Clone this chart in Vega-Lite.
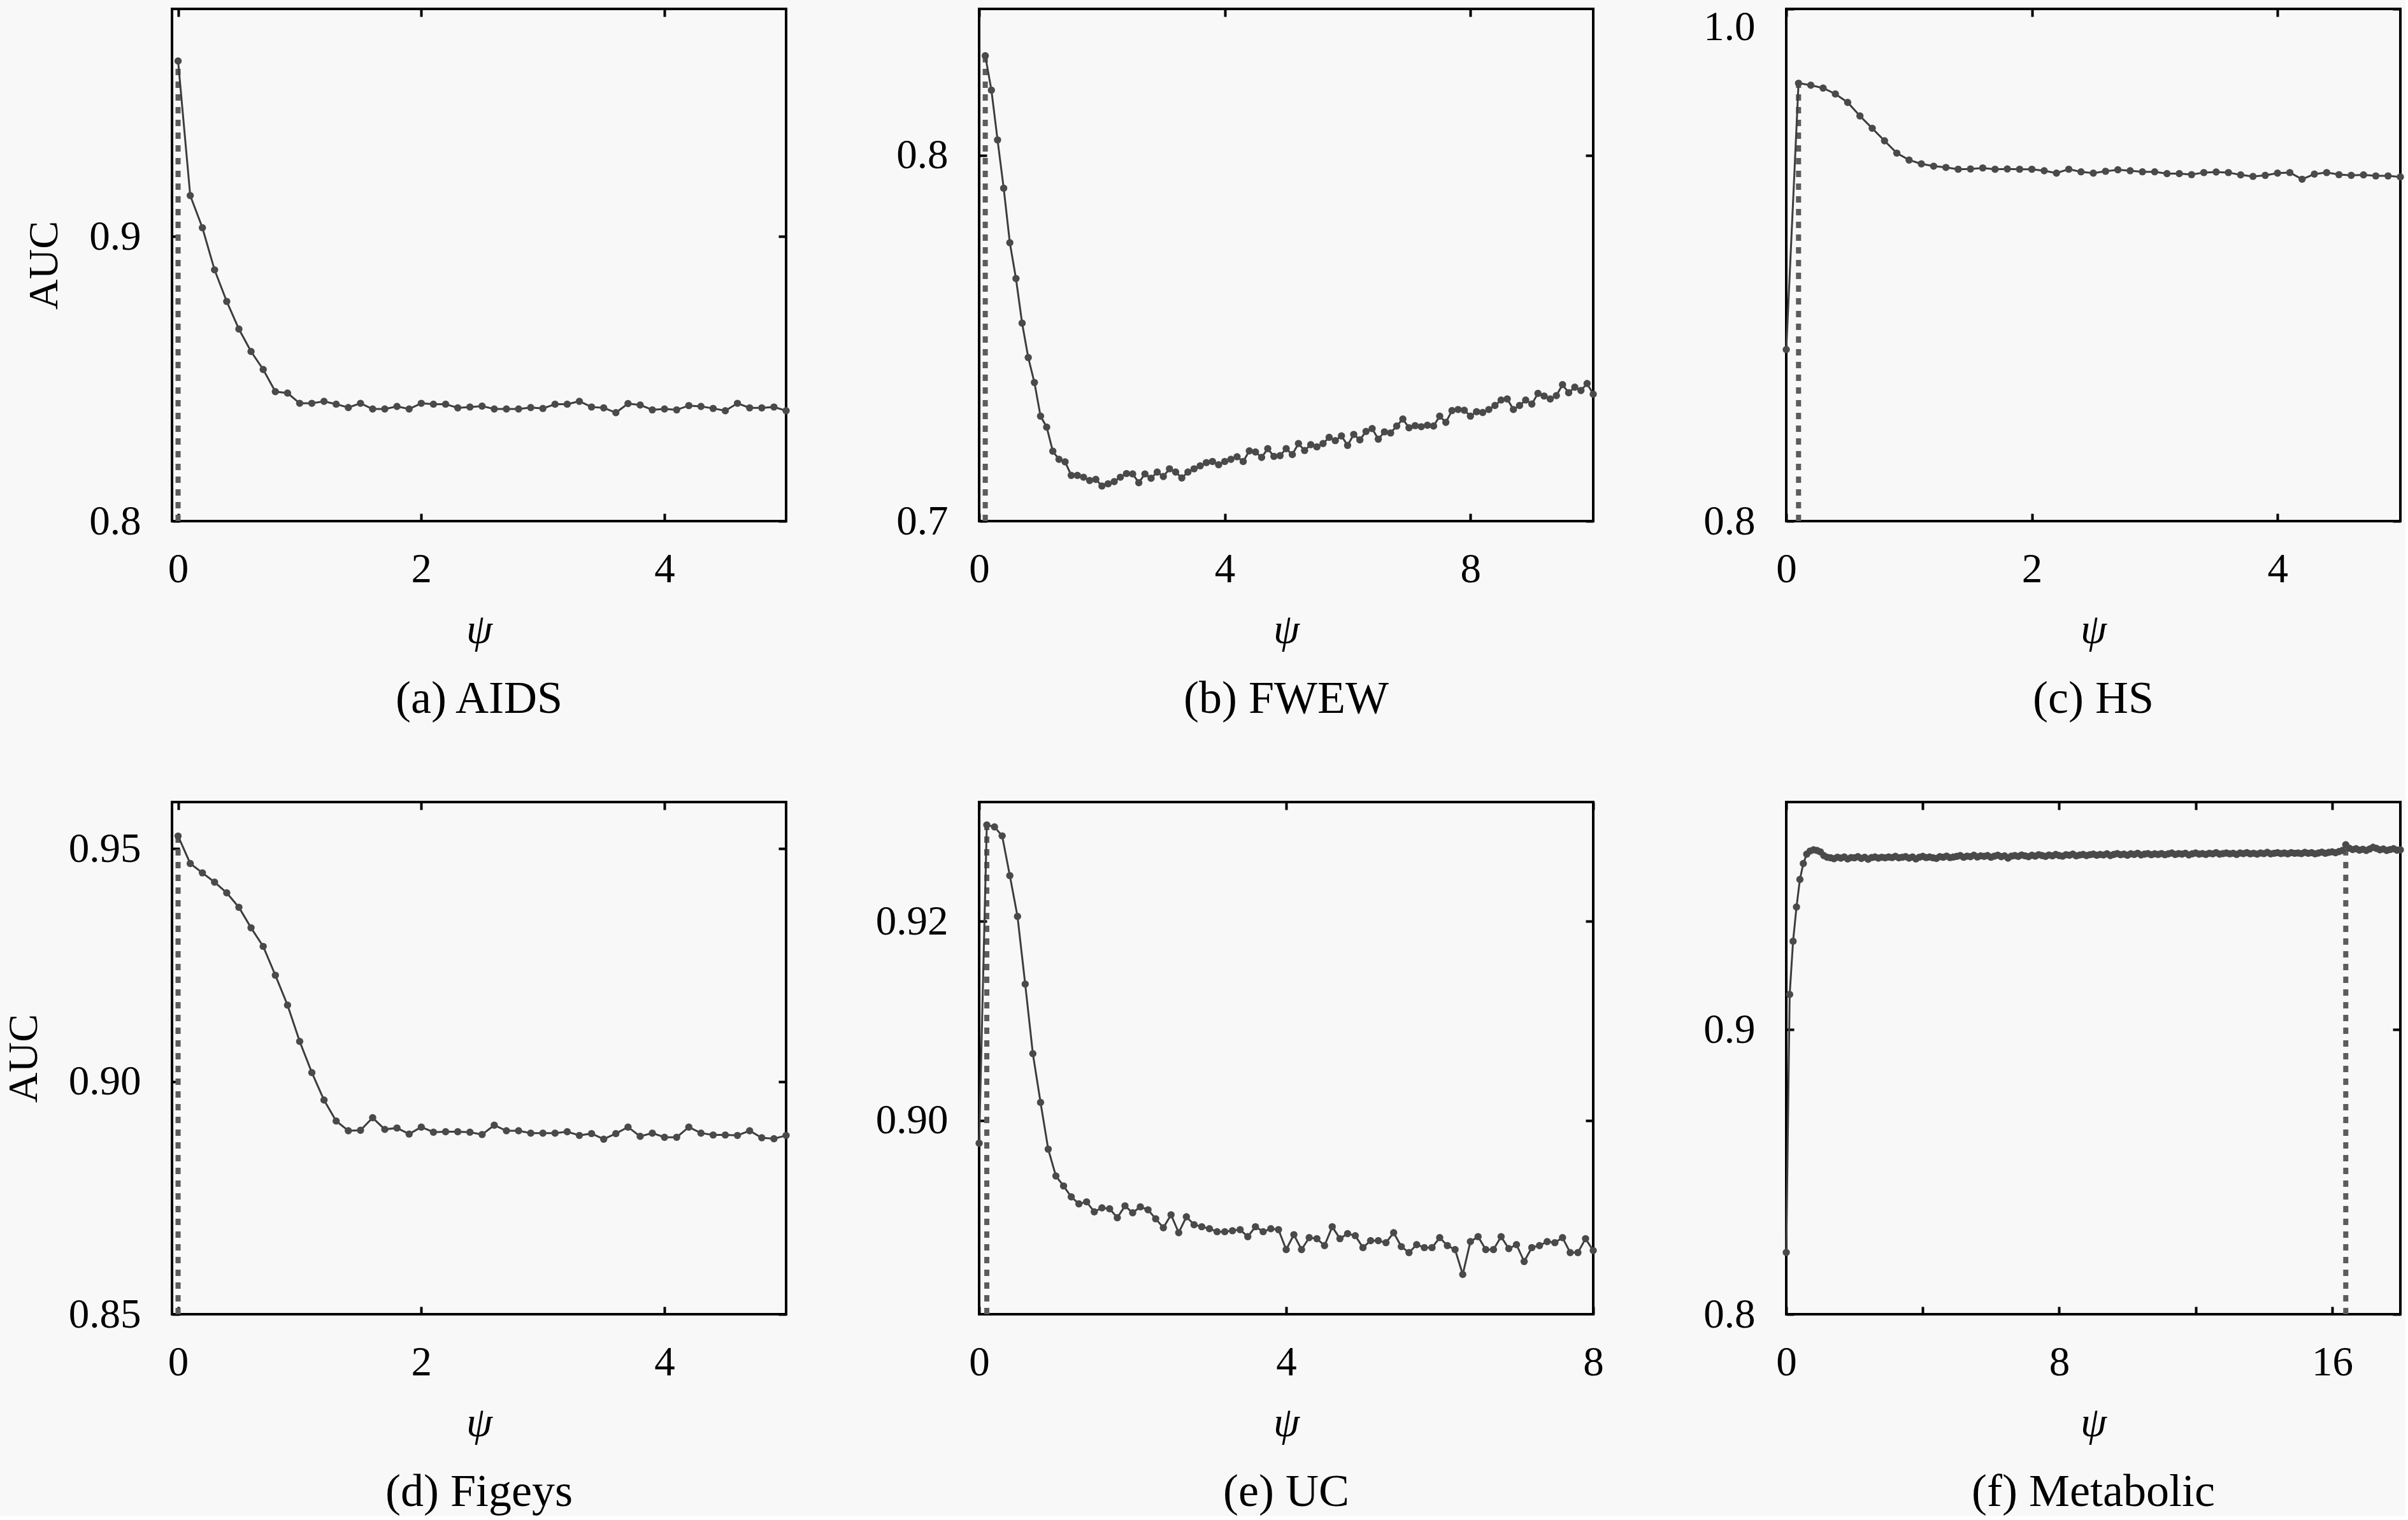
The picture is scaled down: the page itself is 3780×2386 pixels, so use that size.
{
"$schema": "https://vega.github.io/schema/vega-lite/v6.json",
"background": "#f8f8f8",
"padding": {"left": 2, "top": 8, "right": 0, "bottom": 0},
"config": {
  "font": "'Liberation Serif', serif",
  "view": {"stroke": "black", "strokeWidth": 4},
  "axis": {"domain": false, "grid": false, "tickSize": -12, "tickWidth": 4, "tickColor": "black", "labelFont": "'Liberation Serif', serif", "labelFontSize": 65, "labelColor": "black", "titleFont": "'Liberation Serif', serif", "titleFontSize": 66, "titleFontWeight": "normal", "titleColor": "black"},
  "axisX": {"labelFlush": false, "labelPadding": 56, "titlePadding": 30, "titleFontStyle": "italic"},
  "axisY": {"labelPadding": 61, "titlePadding": 36},
  "title": {"orient": "bottom", "fontSize": 72, "fontWeight": "normal", "font": "'Liberation Serif', serif", "color": "black", "offset": 41, "anchor": "middle"}
},
"datasets": {
"a": [{"x":0,"y":0.9617},{"x":0.1,"y":0.9144},{"x":0.2,"y":0.9031},{"x":0.3,"y":0.8883},{"x":0.4,"y":0.8772},{"x":0.5,"y":0.8675},{"x":0.6,"y":0.8596},{"x":0.7,"y":0.8533},{"x":0.8,"y":0.8455},{"x":0.9,"y":0.845},{"x":1.0,"y":0.8414},{"x":1.1,"y":0.8414},{"x":1.2,"y":0.8421},{"x":1.3,"y":0.8411},{"x":1.4,"y":0.8399},{"x":1.5,"y":0.8414},{"x":1.6,"y":0.8394},{"x":1.7,"y":0.8394},{"x":1.8,"y":0.8403},{"x":1.9,"y":0.8394},{"x":2.0,"y":0.8414},{"x":2.1,"y":0.8411},{"x":2.2,"y":0.8411},{"x":2.3,"y":0.8398},{"x":2.4,"y":0.8401},{"x":2.5,"y":0.8404},{"x":2.6,"y":0.8394},{"x":2.7,"y":0.8394},{"x":2.8,"y":0.8394},{"x":2.9,"y":0.8399},{"x":3.0,"y":0.8396},{"x":3.1,"y":0.8411},{"x":3.2,"y":0.8411},{"x":3.3,"y":0.8421},{"x":3.4,"y":0.8401},{"x":3.5,"y":0.8398},{"x":3.6,"y":0.8381},{"x":3.7,"y":0.8413},{"x":3.8,"y":0.8408},{"x":3.9,"y":0.8391},{"x":4.0,"y":0.8394},{"x":4.1,"y":0.8391},{"x":4.2,"y":0.8406},{"x":4.3,"y":0.8403},{"x":4.4,"y":0.8396},{"x":4.5,"y":0.8388},{"x":4.6,"y":0.8414},{"x":4.7,"y":0.8398},{"x":4.8,"y":0.8398},{"x":4.9,"y":0.8401},{"x":5.0,"y":0.8388}],
"b": [{"x":0.1,"y":0.8272},{"x":0.2,"y":0.8178},{"x":0.3,"y":0.8042},{"x":0.4,"y":0.791},{"x":0.5,"y":0.7761},{"x":0.6,"y":0.7663},{"x":0.7,"y":0.7541},{"x":0.8,"y":0.7447},{"x":0.9,"y":0.7379},{"x":1.0,"y":0.7287},{"x":1.1,"y":0.7257},{"x":1.2,"y":0.7191},{"x":1.3,"y":0.7169},{"x":1.4,"y":0.7162},{"x":1.5,"y":0.7125},{"x":1.6,"y":0.7125},{"x":1.7,"y":0.712},{"x":1.8,"y":0.7111},{"x":1.9,"y":0.7114},{"x":2.0,"y":0.7096},{"x":2.1,"y":0.7102},{"x":2.2,"y":0.7108},{"x":2.3,"y":0.712},{"x":2.4,"y":0.713},{"x":2.5,"y":0.7129},{"x":2.6,"y":0.7105},{"x":2.7,"y":0.7129},{"x":2.8,"y":0.7117},{"x":2.9,"y":0.7134},{"x":3.0,"y":0.7122},{"x":3.1,"y":0.7143},{"x":3.2,"y":0.7134},{"x":3.3,"y":0.7118},{"x":3.4,"y":0.7134},{"x":3.5,"y":0.7143},{"x":3.6,"y":0.7151},{"x":3.7,"y":0.716},{"x":3.8,"y":0.7163},{"x":3.9,"y":0.7154},{"x":4.0,"y":0.7163},{"x":4.1,"y":0.7169},{"x":4.2,"y":0.7176},{"x":4.3,"y":0.7163},{"x":4.4,"y":0.7192},{"x":4.5,"y":0.7189},{"x":4.6,"y":0.7174},{"x":4.7,"y":0.7198},{"x":4.8,"y":0.7177},{"x":4.9,"y":0.7179},{"x":5.0,"y":0.7198},{"x":5.1,"y":0.7182},{"x":5.2,"y":0.7212},{"x":5.3,"y":0.7193},{"x":5.4,"y":0.7209},{"x":5.5,"y":0.7203},{"x":5.6,"y":0.7212},{"x":5.7,"y":0.7229},{"x":5.8,"y":0.722},{"x":5.9,"y":0.7233},{"x":6.0,"y":0.7207},{"x":6.1,"y":0.7237},{"x":6.2,"y":0.7222},{"x":6.3,"y":0.7245},{"x":6.4,"y":0.7253},{"x":6.5,"y":0.7224},{"x":6.6,"y":0.7244},{"x":6.7,"y":0.7241},{"x":6.8,"y":0.726},{"x":6.9,"y":0.7279},{"x":7.0,"y":0.7255},{"x":7.1,"y":0.7261},{"x":7.2,"y":0.7258},{"x":7.3,"y":0.7262},{"x":7.4,"y":0.726},{"x":7.5,"y":0.7287},{"x":7.6,"y":0.727},{"x":7.7,"y":0.7302},{"x":7.8,"y":0.7305},{"x":7.9,"y":0.7303},{"x":8.0,"y":0.7287},{"x":8.1,"y":0.7299},{"x":8.2,"y":0.7297},{"x":8.3,"y":0.7305},{"x":8.4,"y":0.7316},{"x":8.5,"y":0.7331},{"x":8.6,"y":0.7334},{"x":8.7,"y":0.7305},{"x":8.8,"y":0.7316},{"x":8.9,"y":0.7331},{"x":9.0,"y":0.732},{"x":9.1,"y":0.7349},{"x":9.2,"y":0.7342},{"x":9.3,"y":0.7334},{"x":9.4,"y":0.7343},{"x":9.5,"y":0.7373},{"x":9.6,"y":0.7351},{"x":9.7,"y":0.7366},{"x":9.8,"y":0.7357},{"x":9.9,"y":0.7376},{"x":10.0,"y":0.7347}],
"c": [{"x":0,"y":0.867},{"x":0.1,"y":0.971},{"x":0.2,"y":0.9702},{"x":0.3,"y":0.9691},{"x":0.4,"y":0.9668},{"x":0.5,"y":0.9635},{"x":0.6,"y":0.9582},{"x":0.7,"y":0.9534},{"x":0.8,"y":0.9485},{"x":0.9,"y":0.9437},{"x":1.0,"y":0.941},{"x":1.1,"y":0.9395},{"x":1.2,"y":0.9386},{"x":1.3,"y":0.9381},{"x":1.4,"y":0.9374},{"x":1.5,"y":0.9375},{"x":1.6,"y":0.9379},{"x":1.7,"y":0.9374},{"x":1.8,"y":0.9375},{"x":1.9,"y":0.9374},{"x":2.0,"y":0.9374},{"x":2.1,"y":0.9368},{"x":2.2,"y":0.9359},{"x":2.3,"y":0.9374},{"x":2.4,"y":0.9364},{"x":2.5,"y":0.9359},{"x":2.6,"y":0.9366},{"x":2.7,"y":0.9372},{"x":2.8,"y":0.9368},{"x":2.9,"y":0.9364},{"x":3.0,"y":0.9364},{"x":3.1,"y":0.9357},{"x":3.2,"y":0.9357},{"x":3.3,"y":0.9353},{"x":3.4,"y":0.9361},{"x":3.5,"y":0.9363},{"x":3.6,"y":0.9361},{"x":3.7,"y":0.9352},{"x":3.8,"y":0.9346},{"x":3.9,"y":0.935},{"x":4.0,"y":0.9359},{"x":4.1,"y":0.9361},{"x":4.2,"y":0.9335},{"x":4.3,"y":0.9355},{"x":4.4,"y":0.9361},{"x":4.5,"y":0.9353},{"x":4.6,"y":0.935},{"x":4.7,"y":0.9352},{"x":4.8,"y":0.9348},{"x":4.9,"y":0.9348},{"x":5.0,"y":0.9344}],
"d": [{"x":0,"y":0.9527},{"x":0.1,"y":0.9468},{"x":0.2,"y":0.9448},{"x":0.3,"y":0.9428},{"x":0.4,"y":0.9405},{"x":0.5,"y":0.9374},{"x":0.6,"y":0.933},{"x":0.7,"y":0.929},{"x":0.8,"y":0.9228},{"x":0.9,"y":0.9164},{"x":1.0,"y":0.9086},{"x":1.1,"y":0.9019},{"x":1.2,"y":0.896},{"x":1.3,"y":0.8915},{"x":1.4,"y":0.8894},{"x":1.5,"y":0.8895},{"x":1.6,"y":0.8922},{"x":1.7,"y":0.8897},{"x":1.8,"y":0.89},{"x":1.9,"y":0.8887},{"x":2.0,"y":0.8902},{"x":2.1,"y":0.8891},{"x":2.2,"y":0.8892},{"x":2.3,"y":0.8892},{"x":2.4,"y":0.8891},{"x":2.5,"y":0.8886},{"x":2.6,"y":0.8906},{"x":2.7,"y":0.8894},{"x":2.8,"y":0.8894},{"x":2.9,"y":0.8889},{"x":3.0,"y":0.8889},{"x":3.1,"y":0.8889},{"x":3.2,"y":0.8892},{"x":3.3,"y":0.8884},{"x":3.4,"y":0.8888},{"x":3.5,"y":0.8876},{"x":3.6,"y":0.8888},{"x":3.7,"y":0.8902},{"x":3.8,"y":0.8882},{"x":3.9,"y":0.8889},{"x":4.0,"y":0.888},{"x":4.1,"y":0.888},{"x":4.2,"y":0.8902},{"x":4.3,"y":0.8889},{"x":4.4,"y":0.8885},{"x":4.5,"y":0.8885},{"x":4.6,"y":0.8884},{"x":4.7,"y":0.8894},{"x":4.8,"y":0.8879},{"x":4.9,"y":0.8877},{"x":5.0,"y":0.8884}],
"e": [{"x":0,"y":0.8977},{"x":0.1,"y":0.9297},{"x":0.2,"y":0.9295},{"x":0.3,"y":0.9286},{"x":0.4,"y":0.9246},{"x":0.5,"y":0.9205},{"x":0.6,"y":0.9137},{"x":0.7,"y":0.9067},{"x":0.8,"y":0.9018},{"x":0.9,"y":0.8971},{"x":1.0,"y":0.8944},{"x":1.1,"y":0.8934},{"x":1.2,"y":0.8923},{"x":1.3,"y":0.8916},{"x":1.4,"y":0.8918},{"x":1.5,"y":0.8908},{"x":1.6,"y":0.8912},{"x":1.7,"y":0.8911},{"x":1.8,"y":0.8902},{"x":1.9,"y":0.8914},{"x":2.0,"y":0.8907},{"x":2.1,"y":0.8913},{"x":2.2,"y":0.891},{"x":2.3,"y":0.8901},{"x":2.4,"y":0.8892},{"x":2.5,"y":0.8905},{"x":2.6,"y":0.8887},{"x":2.7,"y":0.8903},{"x":2.8,"y":0.8895},{"x":2.9,"y":0.8893},{"x":3.0,"y":0.8891},{"x":3.1,"y":0.8888},{"x":3.2,"y":0.8888},{"x":3.3,"y":0.8889},{"x":3.4,"y":0.889},{"x":3.5,"y":0.8883},{"x":3.6,"y":0.8893},{"x":3.7,"y":0.8888},{"x":3.8,"y":0.8891},{"x":3.9,"y":0.889},{"x":4.0,"y":0.887},{"x":4.1,"y":0.8885},{"x":4.2,"y":0.887},{"x":4.3,"y":0.8882},{"x":4.4,"y":0.8881},{"x":4.5,"y":0.8874},{"x":4.6,"y":0.8893},{"x":4.7,"y":0.8881},{"x":4.8,"y":0.8886},{"x":4.9,"y":0.8884},{"x":5.0,"y":0.8872},{"x":5.1,"y":0.8879},{"x":5.2,"y":0.8879},{"x":5.3,"y":0.8877},{"x":5.4,"y":0.8887},{"x":5.5,"y":0.8873},{"x":5.6,"y":0.8867},{"x":5.7,"y":0.8875},{"x":5.8,"y":0.8872},{"x":5.9,"y":0.8872},{"x":6.0,"y":0.8882},{"x":6.1,"y":0.8874},{"x":6.2,"y":0.887},{"x":6.3,"y":0.8845},{"x":6.4,"y":0.8878},{"x":6.5,"y":0.8883},{"x":6.6,"y":0.887},{"x":6.7,"y":0.887},{"x":6.8,"y":0.8883},{"x":6.9,"y":0.8871},{"x":7.0,"y":0.8875},{"x":7.1,"y":0.8858},{"x":7.2,"y":0.8872},{"x":7.3,"y":0.8874},{"x":7.4,"y":0.8878},{"x":7.5,"y":0.8877},{"x":7.6,"y":0.8882},{"x":7.7,"y":0.8867},{"x":7.8,"y":0.8867},{"x":7.9,"y":0.8881},{"x":8.0,"y":0.8869}],
"f": [{"x":0,"y":0.8217},{"x":0.1,"y":0.9124},{"x":0.2,"y":0.9311},{"x":0.3,"y":0.9431},{"x":0.4,"y":0.9528},{"x":0.5,"y":0.9584},{"x":0.6,"y":0.9617},{"x":0.7,"y":0.9628},{"x":0.8,"y":0.9632},{"x":0.9,"y":0.963},{"x":1.0,"y":0.9625},{"x":1.1,"y":0.9612},{"x":1.2,"y":0.9606},
{"x":1.3,"y":0.9604},{"x":1.4,"y":0.9601},{"x":1.5,"y":0.9606},{"x":1.6,"y":0.9603},{"x":1.7,"y":0.9607},{"x":1.8,"y":0.96},{"x":1.9,"y":0.9605},{"x":2.0,"y":0.9604},{"x":2.1,"y":0.9608},{"x":2.2,"y":0.9602},{"x":2.3,"y":0.9606},{"x":2.4,"y":0.9599},{"x":2.5,"y":0.9605},{"x":2.6,"y":0.9607},{"x":2.7,"y":0.9603},{"x":2.8,"y":0.9606},{"x":2.9,"y":0.9604},
{"x":3.0,"y":0.9607},{"x":3.1,"y":0.9605},{"x":3.2,"y":0.9609},{"x":3.3,"y":0.9604},{"x":3.4,"y":0.9606},{"x":3.5,"y":0.9608},{"x":3.6,"y":0.9603},{"x":3.7,"y":0.9607},{"x":3.8,"y":0.96},{"x":3.9,"y":0.9606},{"x":4.0,"y":0.9609},{"x":4.1,"y":0.9605},{"x":4.2,"y":0.9607},{"x":4.3,"y":0.9604},{"x":4.4,"y":0.9602},{"x":4.5,"y":0.9608},{"x":4.6,"y":0.9606},{"x":4.7,"y":0.961},{"x":4.8,"y":0.9605},{"x":4.9,"y":0.9607},
{"x":5.0,"y":0.9609},{"x":5.1,"y":0.9612},{"x":5.2,"y":0.9606},{"x":5.3,"y":0.961},{"x":5.4,"y":0.9608},{"x":5.5,"y":0.9613},{"x":5.6,"y":0.9607},{"x":5.7,"y":0.9611},{"x":5.8,"y":0.9609},{"x":5.9,"y":0.9612},{"x":6.0,"y":0.9606},{"x":6.1,"y":0.961},{"x":6.2,"y":0.9613},{"x":6.3,"y":0.9608},{"x":6.4,"y":0.9611},{"x":6.5,"y":0.9603},{"x":6.6,"y":0.961},{"x":6.7,"y":0.9612},{"x":6.8,"y":0.9609},{"x":6.9,"y":0.9614},
{"x":7.0,"y":0.9611},{"x":7.1,"y":0.9608},{"x":7.2,"y":0.9613},{"x":7.3,"y":0.961},{"x":7.4,"y":0.9615},{"x":7.5,"y":0.9612},{"x":7.6,"y":0.9609},{"x":7.7,"y":0.9614},{"x":7.8,"y":0.9611},{"x":7.9,"y":0.9616},{"x":8.0,"y":0.9612},{"x":8.1,"y":0.961},{"x":8.2,"y":0.9615},{"x":8.3,"y":0.9613},{"x":8.4,"y":0.9617},{"x":8.5,"y":0.9611},{"x":8.6,"y":0.9614},{"x":8.7,"y":0.9616},{"x":8.8,"y":0.9612},{"x":8.9,"y":0.9615},
{"x":9.0,"y":0.9617},{"x":9.1,"y":0.9613},{"x":9.2,"y":0.9616},{"x":9.3,"y":0.9614},{"x":9.4,"y":0.9618},{"x":9.5,"y":0.9612},{"x":9.6,"y":0.9616},{"x":9.7,"y":0.9619},{"x":9.8,"y":0.9615},{"x":9.9,"y":0.9617},{"x":10.0,"y":0.9613},{"x":10.1,"y":0.9618},{"x":10.2,"y":0.9616},{"x":10.3,"y":0.962},{"x":10.4,"y":0.9614},{"x":10.5,"y":0.9617},{"x":10.6,"y":0.9619},{"x":10.7,"y":0.9615},{"x":10.8,"y":0.9618},{"x":10.9,"y":0.9616},
{"x":11.0,"y":0.9619},{"x":11.1,"y":0.9615},{"x":11.2,"y":0.9618},{"x":11.3,"y":0.9621},{"x":11.4,"y":0.9616},{"x":11.5,"y":0.9619},{"x":11.6,"y":0.9617},{"x":11.7,"y":0.962},{"x":11.8,"y":0.9614},{"x":11.9,"y":0.9618},{"x":12.0,"y":0.9621},{"x":12.1,"y":0.9617},{"x":12.2,"y":0.9619},{"x":12.3,"y":0.9616},{"x":12.4,"y":0.962},{"x":12.5,"y":0.9618},{"x":12.6,"y":0.9622},{"x":12.7,"y":0.9617},{"x":12.8,"y":0.9619},{"x":12.9,"y":0.9621},
{"x":13.0,"y":0.9618},{"x":13.1,"y":0.962},{"x":13.2,"y":0.9616},{"x":13.3,"y":0.9621},{"x":13.4,"y":0.9619},{"x":13.5,"y":0.9622},{"x":13.6,"y":0.9618},{"x":13.7,"y":0.962},{"x":13.8,"y":0.9617},{"x":13.9,"y":0.9621},{"x":14.0,"y":0.9619},{"x":14.1,"y":0.9623},{"x":14.2,"y":0.9618},{"x":14.3,"y":0.962},{"x":14.4,"y":0.9622},{"x":14.5,"y":0.9619},{"x":14.6,"y":0.9621},{"x":14.7,"y":0.9618},{"x":14.8,"y":0.9622},{"x":14.9,"y":0.962},
{"x":15.0,"y":0.9621},{"x":15.1,"y":0.9619},{"x":15.2,"y":0.9623},{"x":15.3,"y":0.962},{"x":15.4,"y":0.9622},{"x":15.5,"y":0.9618},{"x":15.6,"y":0.9621},{"x":15.7,"y":0.9624},{"x":15.8,"y":0.962},{"x":15.9,"y":0.9623},{"x":16.0,"y":0.9625},{"x":16.1,"y":0.9622},{"x":16.2,"y":0.9626},{"x":16.3,"y":0.963},{"x":16.4,"y":0.965},{"x":16.5,"y":0.9638},{"x":16.6,"y":0.9633},{"x":16.7,"y":0.9636},{"x":16.8,"y":0.9631},{"x":16.9,"y":0.9634},
{"x":17.0,"y":0.963},{"x":17.1,"y":0.9635},{"x":17.2,"y":0.9641},{"x":17.3,"y":0.9637},{"x":17.4,"y":0.9632},{"x":17.5,"y":0.9635},{"x":17.6,"y":0.963},{"x":17.7,"y":0.9633},{"x":17.8,"y":0.9636},{"x":17.9,"y":0.9631},{"x":18.0,"y":0.9632}]
},
"columns": 3,
"bounds": "flush",
"spacing": {"row": 441, "column": 303},
"concat": [
{
 "width": 964, "height": 804,
 "title": {"text": "(a) AIDS"},
 "layer": [
  {"data": {"values": [{"x": 0, "y0": 0.8, "y1": 0.9617}]},
   "mark": {"type": "rule", "color": "#5c5c5c", "strokeWidth": 8, "strokeDash": [10, 10]},
   "encoding": {
    "x": {"field": "x", "type": "quantitative", "scale": {"domain": [-0.05, 5], "nice": false, "zero": false}, "axis": {"orient": "top", "values": [0, 2, 4], "labels": false, "title": null}},
    "y": {"field": "y0", "type": "quantitative", "scale": {"domain": [0.8, 0.98], "nice": false, "zero": false}, "axis": {"orient": "right", "values": [0.8, 0.9], "labels": false, "title": null}},
    "y2": {"field": "y1"}}},
  {"data": {"name": "a"},
   "mark": {"type": "line", "color": "#3d3d3d", "strokeWidth": 3},
   "encoding": {
    "x": {"field": "x", "type": "quantitative", "scale": {"domain": [-0.05, 5], "nice": false, "zero": false}, "axis": {"orient": "bottom", "values": [0, 2, 4], "title": "ψ"}},
    "y": {"field": "y", "type": "quantitative", "scale": {"domain": [0.8, 0.98], "nice": false, "zero": false}, "axis": {"orient": "left", "values": [0.8, 0.9], "format": ".1f", "title": "AUC"}}}},
  {"data": {"name": "a"},
   "mark": {"type": "point", "filled": true, "size": 130, "color": "#4a4a4a", "opacity": 1},
   "encoding": {
    "x": {"field": "x", "type": "quantitative", "scale": {"domain": [-0.05, 5], "nice": false, "zero": false}, "axis": null},
    "y": {"field": "y", "type": "quantitative", "scale": {"domain": [0.8, 0.98], "nice": false, "zero": false}, "axis": null}}}
 ],
 "resolve": {"axis": {"x": "independent", "y": "independent"}}
},
{
 "width": 964, "height": 804,
 "title": {"text": "(b) FWEW"},
 "layer": [
  {"data": {"values": [{"x": 0.1, "y0": 0.7, "y1": 0.8272}]},
   "mark": {"type": "rule", "color": "#5c5c5c", "strokeWidth": 8, "strokeDash": [10, 10]},
   "encoding": {
    "x": {"field": "x", "type": "quantitative", "scale": {"domain": [0, 10], "nice": false, "zero": false}, "axis": {"orient": "top", "values": [0, 4, 8], "labels": false, "title": null}},
    "y": {"field": "y0", "type": "quantitative", "scale": {"domain": [0.7, 0.84], "nice": false, "zero": false}, "axis": {"orient": "right", "values": [0.7, 0.8], "labels": false, "title": null}},
    "y2": {"field": "y1"}}},
  {"data": {"name": "b"},
   "mark": {"type": "line", "color": "#3d3d3d", "strokeWidth": 3},
   "encoding": {
    "x": {"field": "x", "type": "quantitative", "scale": {"domain": [0, 10], "nice": false, "zero": false}, "axis": {"orient": "bottom", "values": [0, 4, 8], "title": "ψ"}},
    "y": {"field": "y", "type": "quantitative", "scale": {"domain": [0.7, 0.84], "nice": false, "zero": false}, "axis": {"orient": "left", "values": [0.7, 0.8], "format": ".1f", "title": null}}}},
  {"data": {"name": "b"},
   "mark": {"type": "point", "filled": true, "size": 130, "color": "#4a4a4a", "opacity": 1},
   "encoding": {
    "x": {"field": "x", "type": "quantitative", "scale": {"domain": [0, 10], "nice": false, "zero": false}, "axis": null},
    "y": {"field": "y", "type": "quantitative", "scale": {"domain": [0.7, 0.84], "nice": false, "zero": false}, "axis": null}}}
 ],
 "resolve": {"axis": {"x": "independent", "y": "independent"}}
},
{
 "width": 964, "height": 804,
 "title": {"text": "(c) HS"},
 "layer": [
  {"data": {"values": [{"x": 0.1, "y0": 0.8, "y1": 0.971}]},
   "mark": {"type": "rule", "color": "#5c5c5c", "strokeWidth": 8, "strokeDash": [10, 10]},
   "encoding": {
    "x": {"field": "x", "type": "quantitative", "scale": {"domain": [0, 5], "nice": false, "zero": false}, "axis": {"orient": "top", "values": [0, 2, 4], "labels": false, "title": null}},
    "y": {"field": "y0", "type": "quantitative", "scale": {"domain": [0.8, 1.0], "nice": false, "zero": false}, "axis": {"orient": "right", "values": [0.8, 1.0], "labels": false, "title": null}},
    "y2": {"field": "y1"}}},
  {"data": {"name": "c"},
   "mark": {"type": "line", "color": "#3d3d3d", "strokeWidth": 3},
   "encoding": {
    "x": {"field": "x", "type": "quantitative", "scale": {"domain": [0, 5], "nice": false, "zero": false}, "axis": {"orient": "bottom", "values": [0, 2, 4], "title": "ψ"}},
    "y": {"field": "y", "type": "quantitative", "scale": {"domain": [0.8, 1.0], "nice": false, "zero": false}, "axis": {"orient": "left", "values": [0.8, 1.0], "format": ".1f", "title": null, "labelOffset": {"condition": {"test": "datum.value > 0.99", "value": 28}, "value": 0}}}}},
  {"data": {"name": "c"},
   "mark": {"type": "point", "filled": true, "size": 130, "color": "#4a4a4a", "opacity": 1},
   "encoding": {
    "x": {"field": "x", "type": "quantitative", "scale": {"domain": [0, 5], "nice": false, "zero": false}, "axis": null},
    "y": {"field": "y", "type": "quantitative", "scale": {"domain": [0.8, 1.0], "nice": false, "zero": false}, "axis": null}}}
 ],
 "resolve": {"axis": {"x": "independent", "y": "independent"}}
},
{
 "width": 964, "height": 804,
 "title": {"text": "(d) Figeys"},
 "layer": [
  {"data": {"values": [{"x": 0, "y0": 0.85, "y1": 0.9527}]},
   "mark": {"type": "rule", "color": "#5c5c5c", "strokeWidth": 8, "strokeDash": [10, 10]},
   "encoding": {
    "x": {"field": "x", "type": "quantitative", "scale": {"domain": [-0.05, 5], "nice": false, "zero": false}, "axis": {"orient": "top", "values": [0, 2, 4], "labels": false, "title": null}},
    "y": {"field": "y0", "type": "quantitative", "scale": {"domain": [0.85, 0.96], "nice": false, "zero": false}, "axis": {"orient": "right", "values": [0.85, 0.9, 0.95], "labels": false, "title": null}},
    "y2": {"field": "y1"}}},
  {"data": {"name": "d"},
   "mark": {"type": "line", "color": "#3d3d3d", "strokeWidth": 3},
   "encoding": {
    "x": {"field": "x", "type": "quantitative", "scale": {"domain": [-0.05, 5], "nice": false, "zero": false}, "axis": {"orient": "bottom", "values": [0, 2, 4], "title": "ψ"}},
    "y": {"field": "y", "type": "quantitative", "scale": {"domain": [0.85, 0.96], "nice": false, "zero": false}, "axis": {"orient": "left", "values": [0.85, 0.9, 0.95], "format": ".2f", "title": "AUC"}}}},
  {"data": {"name": "d"},
   "mark": {"type": "point", "filled": true, "size": 130, "color": "#4a4a4a", "opacity": 1},
   "encoding": {
    "x": {"field": "x", "type": "quantitative", "scale": {"domain": [-0.05, 5], "nice": false, "zero": false}, "axis": null},
    "y": {"field": "y", "type": "quantitative", "scale": {"domain": [0.85, 0.96], "nice": false, "zero": false}, "axis": null}}}
 ],
 "resolve": {"axis": {"x": "independent", "y": "independent"}}
},
{
 "width": 964, "height": 804,
 "title": {"text": "(e) UC"},
 "layer": [
  {"data": {"values": [{"x": 0.1, "y0": 0.8805, "y1": 0.9297}]},
   "mark": {"type": "rule", "color": "#5c5c5c", "strokeWidth": 8, "strokeDash": [10, 10]},
   "encoding": {
    "x": {"field": "x", "type": "quantitative", "scale": {"domain": [0, 8], "nice": false, "zero": false}, "axis": {"orient": "top", "values": [0, 4, 8], "labels": false, "title": null}},
    "y": {"field": "y0", "type": "quantitative", "scale": {"domain": [0.8805, 0.932], "nice": false, "zero": false}, "axis": {"orient": "right", "values": [0.9, 0.92], "labels": false, "title": null}},
    "y2": {"field": "y1"}}},
  {"data": {"name": "e"},
   "mark": {"type": "line", "color": "#3d3d3d", "strokeWidth": 3},
   "encoding": {
    "x": {"field": "x", "type": "quantitative", "scale": {"domain": [0, 8], "nice": false, "zero": false}, "axis": {"orient": "bottom", "values": [0, 4, 8], "title": "ψ"}},
    "y": {"field": "y", "type": "quantitative", "scale": {"domain": [0.8805, 0.932], "nice": false, "zero": false}, "axis": {"orient": "left", "values": [0.9, 0.92], "format": ".2f", "title": null}}}},
  {"data": {"name": "e"},
   "mark": {"type": "point", "filled": true, "size": 130, "color": "#4a4a4a", "opacity": 1},
   "encoding": {
    "x": {"field": "x", "type": "quantitative", "scale": {"domain": [0, 8], "nice": false, "zero": false}, "axis": null},
    "y": {"field": "y", "type": "quantitative", "scale": {"domain": [0.8805, 0.932], "nice": false, "zero": false}, "axis": null}}}
 ],
 "resolve": {"axis": {"x": "independent", "y": "independent"}}
},
{
 "width": 964, "height": 804,
 "title": {"text": "(f) Metabolic"},
 "layer": [
  {"data": {"values": [{"x": 16.4, "y0": 0.8, "y1": 0.965}]},
   "mark": {"type": "rule", "color": "#5c5c5c", "strokeWidth": 8, "strokeDash": [10, 10]},
   "encoding": {
    "x": {"field": "x", "type": "quantitative", "scale": {"domain": [0, 18], "nice": false, "zero": false}, "axis": {"orient": "top", "values": [0, 4, 8, 12, 16], "labels": false, "title": null}},
    "y": {"field": "y0", "type": "quantitative", "scale": {"domain": [0.8, 0.98], "nice": false, "zero": false}, "axis": {"orient": "right", "values": [0.8, 0.9], "labels": false, "title": null}},
    "y2": {"field": "y1"}}},
  {"data": {"name": "f"},
   "mark": {"type": "line", "color": "#3d3d3d", "strokeWidth": 3},
   "encoding": {
    "x": {"field": "x", "type": "quantitative", "scale": {"domain": [0, 18], "nice": false, "zero": false}, "axis": {"orient": "bottom", "values": [0, 4, 8, 12, 16], "labelExpr": "datum.value % 8 == 0 ? datum.label : ''", "title": "ψ"}},
    "y": {"field": "y", "type": "quantitative", "scale": {"domain": [0.8, 0.98], "nice": false, "zero": false}, "axis": {"orient": "left", "values": [0.8, 0.9], "format": ".1f", "title": null}}}},
  {"data": {"name": "f"},
   "mark": {"type": "point", "filled": true, "size": 130, "color": "#4a4a4a", "opacity": 1},
   "encoding": {
    "x": {"field": "x", "type": "quantitative", "scale": {"domain": [0, 18], "nice": false, "zero": false}, "axis": null},
    "y": {"field": "y", "type": "quantitative", "scale": {"domain": [0.8, 0.98], "nice": false, "zero": false}, "axis": null}}}
 ],
 "resolve": {"axis": {"x": "independent", "y": "independent"}}
}
]
}
